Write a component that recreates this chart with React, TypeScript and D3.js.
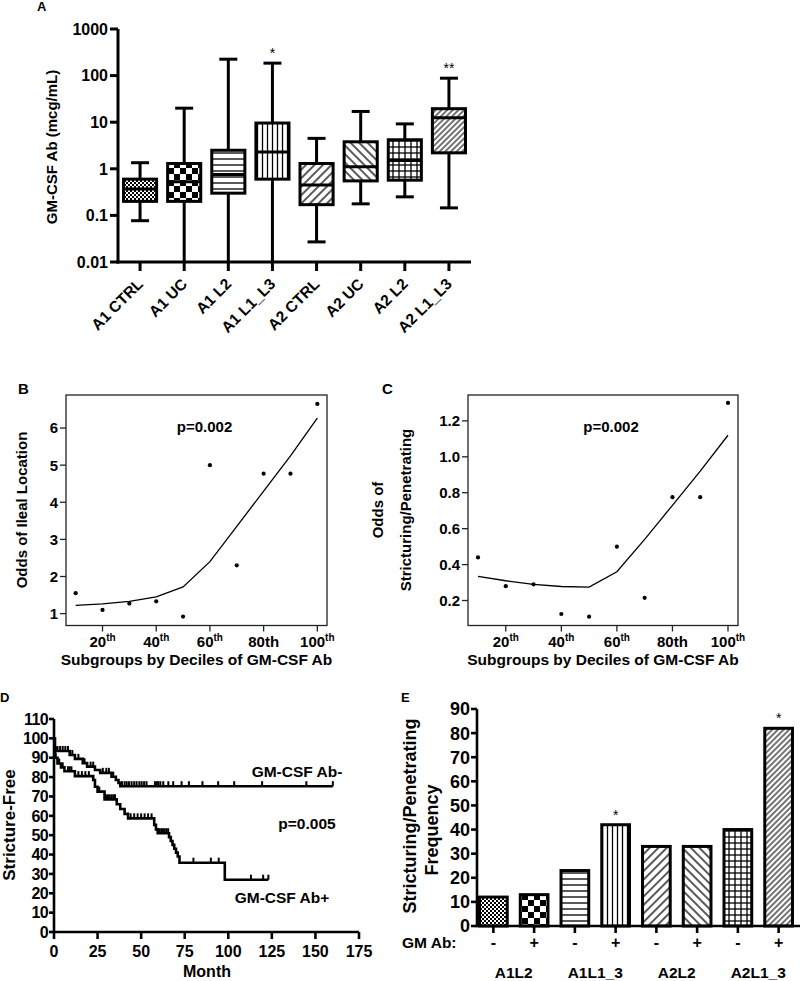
import React from "react";
import * as d3 from "d3";

const FONT = "'Liberation Sans', Arial, Helvetica, sans-serif";

// ---- panel A: box plots (log scale)
const boxGroups = ["A1 CTRL", "A1 UC", "A1 L2", "A1 L1_L3", "A2 CTRL", "A2 UC", "A2 L2", "A2 L1_L3"];
const boxLow = [0.077, 0.01, 0.01, 0.01, 0.027, 0.177, 0.25, 0.145];
const boxQ1 = [0.2, 0.2, 0.3, 0.6, 0.17, 0.55, 0.57, 2.2];
const boxMedian = [0.37, 0.53, 0.75, 2.3, 0.45, 1.1, 1.5, 12.5];
const boxQ3 = [0.6, 1.3, 2.5, 9.6, 1.3, 3.8, 4.2, 19.5];
const boxHigh = [1.35, 20, 225, 185, 4.5, 17, 9.2, 88];
const boxStars = ["", "", "", "*", "", "", "", "**"];
const groupPatterns = ["fine", "check", "hlines", "vlines", "diagUp", "diagDown", "grid", "diagDense"];
const logTicks = [0.01, 0.1, 1, 10, 100, 1000];

// ---- panels B and C: odds by decile
const deciles = [10, 20, 30, 40, 50, 60, 70, 80, 90, 100];
const decileTicks = [20, 40, 60, 80, 100];
const decileTickText = [["20", "th"], ["40", "th"], ["60", "th"], ["80th", ""], ["100", "th"]];
const ilealOdds = [1.55, 1.1, 1.27, 1.33, 0.92, 5.0, 2.3, 4.77, 4.77, 6.65];
const ilealFit = [1.22, 1.26, 1.33, 1.45, 1.72, 2.4, 3.35, 4.3, 5.25, 6.27];
const ilealTicks = [1, 2, 3, 4, 5, 6];
const strictOdds = [0.44, 0.28, 0.29, 0.125, 0.11, 0.5, 0.215, 0.775, 0.775, 1.3];
const strictFit = [0.335, 0.31, 0.29, 0.278, 0.275, 0.36, 0.54, 0.73, 0.92, 1.12];
const strictTicks = [0.2, 0.4, 0.6, 0.8, 1.0, 1.2];

// ---- panel D: Kaplan-Meier
const negTimes = [0, 0.5, 1, 9, 12, 16.5, 19, 23.5, 26.5, 33, 35.5, 37, 38, 160];
const negSurv = [100, 95, 93.5, 91.4, 89.4, 87.2, 85.4, 83.7, 82.2, 80.2, 78.5, 77, 75.3, 75.3];
const negCensor = [2, 3.5, 5, 6.5, 8, 10.5, 14, 17.5, 21, 22.5, 28, 30, 31.5, 34, 39, 40.5, 41.7, 43, 44.5, 46,
  47.4, 49, 50.3, 51.7, 53.1, 57.9, 59, 59.8, 61, 62.7, 65.6, 68.4, 73.2, 77.4, 85.2, 94.2, 103.4, 119.4, 144.8, 160];
const posTimes = [0, 0.5, 2, 4, 6, 12, 22.5, 23.5, 25, 29, 36, 38, 40.5, 42.5, 57.5, 58.5, 59.5, 66, 67, 68, 69, 70,
  71, 72, 98, 123];
const posSurv = [100, 90, 87, 85, 83, 80.5, 78.5, 75, 72.5, 68.5, 66, 63.5, 61, 58.7, 55.3, 53, 51, 49, 47, 45, 43,
  41, 39, 35.8, 27, 27];
const posCensor = [1, 3, 5, 8, 9, 10, 14, 16, 18, 20, 26, 30, 31, 32, 33, 34, 35, 44, 46, 48, 50, 52, 54, 56, 60.5,
  61.5, 62.5, 63.5, 64.5, 65.5, 80, 90, 94.5, 113, 120, 123];
const monthTicks = [0, 25, 50, 75, 100, 125, 150, 175];
const survTicks = [0, 10, 20, 30, 40, 50, 60, 70, 80, 90, 100, 110];

// ---- panel E: frequency bars
const freqGroups = ["A1L2", "A1L1_3", "A2L2", "A2L1_3"];
const freqAb = ["-", "+", "-", "+", "-", "+", "-", "+"];
const freqValues = [12, 13, 23, 42, 33, 33, 40, 82];
const freqStars = ["", "", "", "*", "", "", "", "*"];
const freqTicks = [0, 10, 20, 30, 40, 50, 60, 70, 80, 90];

function Patterns() {
  const lw = 1.3;
  return (
    <defs>
      <pattern id="fine" width={4} height={4} patternUnits="userSpaceOnUse">
        <rect width={4} height={4} fill="#fff" />
        <rect width={2} height={2} fill="#000" />
        <rect x={2} y={2} width={2} height={2} fill="#000" />
      </pattern>
      <pattern id="check" width={12} height={12} patternUnits="userSpaceOnUse">
        <rect width={12} height={12} fill="#fff" />
        <rect width={6} height={6} fill="#000" />
        <rect x={6} y={6} width={6} height={6} fill="#000" />
      </pattern>
      <pattern id="hlines" width={6} height={6} patternUnits="userSpaceOnUse">
        <rect width={6} height={6} fill="#fff" />
        <line x1={0} x2={6} y1={3} y2={3} stroke="#000" strokeWidth={lw} />
      </pattern>
      <pattern id="vlines" width={5} height={5} patternUnits="userSpaceOnUse">
        <rect width={5} height={5} fill="#fff" />
        <line x1={2.5} x2={2.5} y1={0} y2={5} stroke="#000" strokeWidth={lw} />
      </pattern>
      <pattern id="diagUp" width={6} height={6} patternUnits="userSpaceOnUse" patternTransform="rotate(45)">
        <rect width={6} height={6} fill="#fff" />
        <line x1={3} x2={3} y1={0} y2={6} stroke="#000" strokeWidth={lw} />
      </pattern>
      <pattern id="diagDown" width={6} height={6} patternUnits="userSpaceOnUse" patternTransform="rotate(-45)">
        <rect width={6} height={6} fill="#fff" />
        <line x1={3} x2={3} y1={0} y2={6} stroke="#000" strokeWidth={lw} />
      </pattern>
      <pattern id="grid" width={6} height={6} patternUnits="userSpaceOnUse">
        <rect width={6} height={6} fill="#fff" />
        <line x1={3} x2={3} y1={0} y2={6} stroke="#000" strokeWidth={lw} />
        <line x1={0} x2={6} y1={3} y2={3} stroke="#000" strokeWidth={lw} />
      </pattern>
      <pattern id="diagDense" width={4} height={4} patternUnits="userSpaceOnUse" patternTransform="rotate(45)">
        <rect width={4} height={4} fill="#fff" />
        <line x1={2} x2={2} y1={0} y2={4} stroke="#000" strokeWidth={1.1} />
      </pattern>
    </defs>
  );
}

function PanelA() {
  const y = d3.scaleLog().domain([0.01, 1000]).range([262, 29]);
  const x = d3.scaleBand().domain(boxGroups).range([118, 471]).paddingInner(0.25).paddingOuter(0.125);
  const bw = x.bandwidth();
  return (
    <g>
      <text x={37} y={11} fontSize={13}>A</text>
      {boxGroups.map((g, i) => {
        const x0 = x(g) as number;
        const cx = x0 + bw / 2;
        return (
          <g key={g}>
            <line x1={cx} x2={cx} y1={y(boxHigh[i])} y2={y(boxQ3[i])} stroke="#000" strokeWidth={3} />
            <line x1={cx} x2={cx} y1={y(boxQ1[i])} y2={y(boxLow[i])} stroke="#000" strokeWidth={3} />
            <line x1={cx - 9} x2={cx + 9} y1={y(boxHigh[i])} y2={y(boxHigh[i])} stroke="#000" strokeWidth={3} />
            {boxLow[i] > 0.01 && (
              <line x1={cx - 9} x2={cx + 9} y1={y(boxLow[i])} y2={y(boxLow[i])} stroke="#000" strokeWidth={3} />
            )}
            <rect x={x0} y={y(boxQ3[i])} width={bw} height={y(boxQ1[i]) - y(boxQ3[i])}
              fill={`url(#${groupPatterns[i]})`} stroke="#000" strokeWidth={3} />
            <line x1={x0} x2={x0 + bw} y1={y(boxMedian[i])} y2={y(boxMedian[i])} stroke="#000" strokeWidth={3} />
            {boxStars[i] && (
              <text x={cx} y={y(boxHigh[i]) - 5} fontSize={14} fontWeight="normal" textAnchor="middle">{boxStars[i]}</text>
            )}
            <line x1={cx} x2={cx} y1={262} y2={271} stroke="#000" strokeWidth={3} />
            <text transform={`translate(${cx + 4},${285}) rotate(-45)`} fontSize={15.5} textAnchor="end">{g}</text>
          </g>
        );
      })}
      <line x1={118} x2={118} y1={29} y2={263.5} stroke="#000" strokeWidth={3} />
      <line x1={116.5} x2={471} y1={262} y2={262} stroke="#000" strokeWidth={3} />
      {logTicks.map((t) => (
        <g key={t}>
          <line x1={110} x2={118} y1={y(t)} y2={y(t)} stroke="#000" strokeWidth={3} />
          <text x={108} y={y(t)} dy="0.36em" fontSize={16} textAnchor="end">{String(t)}</text>
        </g>
      ))}
      <text transform="translate(57,147) rotate(-90)" fontSize={15} textAnchor="middle">GM-CSF Ab (mcg/mL)</text>
    </g>
  );
}

type ScatterProps = {
  letter: string;
  left: number;
  right: number;
  yDomain: [number, number];
  yTicks: number[];
  tickFmt: (v: number) => string;
  points: number[];
  fit: number[];
  yLabel: string[];
  yLabelX: number[];
  letterX: number;
};

function ScatterPanel(p: ScatterProps) {
  const top = 395;
  const bottom = 625.5;
  const x = d3.scaleLinear().domain([6.4, 103.6]).range([p.left, p.right]);
  const y = d3.scaleLinear().domain(p.yDomain).range([bottom, top]);
  const line = d3.line<number>().x((_, i) => x(deciles[i])).y((v) => y(v));
  const midX = (p.left + p.right) / 2;
  return (
    <g>
      <text x={p.letterX} y={394} fontSize={15}>{p.letter}</text>
      <rect x={p.left} y={top} width={p.right - p.left} height={bottom - top} fill="none" stroke="#222" strokeWidth={1.3} />
      {p.yTicks.map((t) => (
        <g key={t}>
          <line x1={p.left - 6} x2={p.left} y1={y(t)} y2={y(t)} stroke="#222" strokeWidth={1.3} />
          <text x={p.left - 8} y={y(t)} dy="0.36em" fontSize={15} textAnchor="end">{p.tickFmt(t)}</text>
        </g>
      ))}
      {decileTicks.map((t, i) => (
        <g key={t}>
          <line x1={x(t)} x2={x(t)} y1={bottom} y2={bottom + 6} stroke="#222" strokeWidth={1.3} />
          <text x={x(t)} y={647} fontSize={15} textAnchor="middle">
            {decileTickText[i][0]}
            {decileTickText[i][1] && <tspan dy={-6} fontSize={10}>{decileTickText[i][1]}</tspan>}
          </text>
        </g>
      ))}
      <path d={line(p.fit) || ""} fill="none" stroke="#000" strokeWidth={1.3} />
      {p.points.map((v, i) => (
        <circle key={i} cx={x(deciles[i])} cy={y(v)} r={2.1} fill="#000" />
      ))}
      <text x={midX + 8} y={432} fontSize={15} textAnchor="middle">p=0.002</text>
      <text x={midX} y={665} fontSize={15.5} textAnchor="middle">Subgroups by Deciles of GM-CSF Ab</text>
      {p.yLabel.map((s, i) => (
        <text key={s} transform={`translate(${p.yLabelX[i]},510) rotate(-90)`} fontSize={15} textAnchor="middle">{s}</text>
      ))}
    </g>
  );
}

function PanelD() {
  const x = d3.scaleLinear().domain([0, 175]).range([54, 359]);
  const y = d3.scaleLinear().domain([0, 110]).range([932, 719]);
  const step = d3.line<number>().curve(d3.curveStepAfter);
  const negPath = step(negTimes.map((t, i) => [x(t), y(negSurv[i])] as [number, number]));
  const posPath = step(posTimes.map((t, i) => [x(t), y(posSurv[i])] as [number, number]));
  const survAt = (times: number[], surv: number[], t: number) => {
    let v = surv[0];
    times.forEach((tt, i) => { if (tt <= t) v = surv[i]; });
    return v;
  };
  return (
    <g>
      <text x={0} y={702} fontSize={13}>D</text>
      <path d={negPath || ""} fill="none" stroke="#000" strokeWidth={2.6} />
      <path d={posPath || ""} fill="none" stroke="#000" strokeWidth={2.6} />
      {negCensor.map((t, i) => {
        const v = y(survAt(negTimes, negSurv, t));
        return <line key={"n" + i} x1={x(t)} x2={x(t)} y1={v - 5} y2={v} stroke="#000" strokeWidth={2} />;
      })}
      {posCensor.map((t, i) => {
        const v = y(survAt(posTimes, posSurv, t));
        return <line key={"p" + i} x1={x(t)} x2={x(t)} y1={v - 5} y2={v} stroke="#000" strokeWidth={2} />;
      })}
      <line x1={54} x2={54} y1={719} y2={933} stroke="#000" strokeWidth={2.6} />
      <line x1={52.7} x2={359} y1={932} y2={932} stroke="#000" strokeWidth={2.6} />
      {survTicks.map((t) => (
        <g key={t}>
          <line x1={49} x2={54} y1={y(t)} y2={y(t)} stroke="#000" strokeWidth={2.6} />
          <text x={48} y={y(t)} dy="0.36em" fontSize={16} textAnchor="end" letterSpacing={-0.6}>{t}</text>
        </g>
      ))}
      {monthTicks.map((t) => (
        <g key={t}>
          <line x1={x(t)} x2={x(t)} y1={932} y2={939} stroke="#000" strokeWidth={2.6} />
          <text x={x(t)} y={957} fontSize={16} textAnchor="middle">{t}</text>
        </g>
      ))}
      <text x={297} y={777} fontSize={15.5} textAnchor="middle">GM-CSF Ab-</text>
      <text x={307} y={829} fontSize={15.5} textAnchor="middle">p=0.005</text>
      <text x={282} y={903} fontSize={15.5} textAnchor="middle">GM-CSF Ab+</text>
      <text x={207} y={977} fontSize={16} textAnchor="middle">Month</text>
      <text transform="translate(15,825) rotate(-90)" fontSize={17} textAnchor="middle">Stricture-Free</text>
    </g>
  );
}

function PanelE() {
  const ids = freqValues.map((_, i) => String(i));
  const x = d3.scaleBand().domain(ids).range([473, 799]).paddingInner(0.32).paddingOuter(0.16);
  const y = d3.scaleLinear().domain([0, 90]).range([926, 709]);
  const bw = x.bandwidth();
  return (
    <g>
      <text x={401} y={702} fontSize={13}>E</text>
      {freqValues.map((v, i) => {
        const x0 = x(ids[i]) as number;
        const cx = x0 + bw / 2;
        return (
          <g key={i}>
            <rect x={x0} y={y(v)} width={bw} height={y(0) - y(v)} fill={`url(#${groupPatterns[i]})`}
              stroke="#000" strokeWidth={3} />
            {freqStars[i] && (
              <text x={cx} y={y(v) - 5} fontSize={14} fontWeight="normal" textAnchor="middle">{freqStars[i]}</text>
            )}
            <line x1={cx} x2={cx} y1={926} y2={933} stroke="#000" strokeWidth={2.6} />
            <text x={cx} y={948} fontSize={16} textAnchor="middle">{freqAb[i]}</text>
          </g>
        );
      })}
      {freqGroups.map((g, k) => {
        const a = x(ids[2 * k]) as number;
        const b = (x(ids[2 * k + 1]) as number) + bw;
        return <text key={g} x={(a + b) / 2} y={978} fontSize={15.5} textAnchor="middle">{g}</text>;
      })}
      <line x1={477} x2={477} y1={709} y2={927} stroke="#000" strokeWidth={2.6} />
      <line x1={475.7} x2={800} y1={926} y2={926} stroke="#000" strokeWidth={2.6} />
      {freqTicks.map((t) => (
        <g key={t}>
          <line x1={471} x2={477} y1={y(t)} y2={y(t)} stroke="#000" strokeWidth={2.6} />
          <text x={470} y={y(t)} dy="0.36em" fontSize={18} textAnchor="end">{t}</text>
        </g>
      ))}
      <text x={402} y={948} fontSize={15.5}>GM Ab:</text>
      <text transform="translate(416,816) rotate(-90)" fontSize={18} textAnchor="middle">Stricturing/Penetrating</text>
      <text transform="translate(438,830) rotate(-90)" fontSize={18} textAnchor="middle">Frequency</text>
    </g>
  );
}

export default function App() {
  return (
    <svg width={800} height={981} viewBox="0 0 800 981"
      style={{ position: "absolute", left: 0, top: 0, background: "#fff" }}
      fontFamily={FONT} fontWeight="bold">
      <Patterns />
      <rect width={800} height={981} fill="#fff" />
      <PanelA />
      <ScatterPanel letter="B" letterX={18} left={66} right={327} yDomain={[0.68, 6.89]} yTicks={ilealTicks}
        tickFmt={(v) => String(v)} points={ilealOdds} fit={ilealFit}
        yLabel={["Odds of Ileal Location"]} yLabelX={[27]} />
      <ScatterPanel letter="C" letterX={382} left={468} right={738} yDomain={[0.061, 1.344]} yTicks={strictTicks}
        tickFmt={d3.format(".1f")} points={strictOdds} fit={strictFit}
        yLabel={["Odds of", "Stricturing/Penetrating"]} yLabelX={[383, 411]} />
      <PanelD />
      <PanelE />
    </svg>
  );
}
